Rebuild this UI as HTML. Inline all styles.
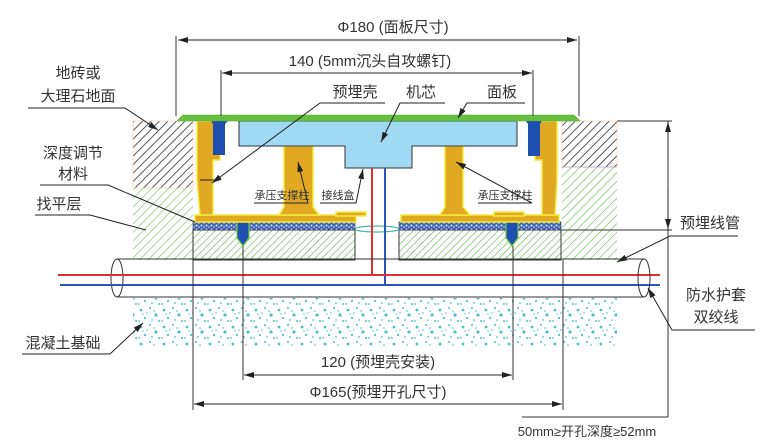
<!DOCTYPE html>
<html><head><meta charset="utf-8"><style>
html,body{margin:0;padding:0;background:#fff;}
svg{display:block;}
text{font-family:"Liberation Sans","Noto Sans CJK SC",sans-serif;fill:#333;}
</style></head><body>
<svg width="769" height="447" viewBox="0 0 769 447" xmlns="http://www.w3.org/2000/svg">
<defs>
<pattern id="hb" width="6" height="6" patternUnits="userSpaceOnUse" patternTransform="rotate(45)">
<line x1="0" y1="0" x2="0" y2="6" stroke="#222" stroke-width="1.5"/></pattern>
<pattern id="hg" width="6" height="6" patternUnits="userSpaceOnUse" patternTransform="rotate(45)">
<line x1="0" y1="0" x2="0" y2="6" stroke="#6fbf5c" stroke-width="1.3"/></pattern>
<pattern id="hg2" width="5" height="5" patternUnits="userSpaceOnUse" patternTransform="rotate(45)">
<line x1="0" y1="0" x2="0" y2="5" stroke="#5ab04a" stroke-width="1.2"/></pattern>
<pattern id="dots" width="23" height="17" patternUnits="userSpaceOnUse">
<circle cx="3" cy="4" r="1.4" fill="#4cc0cc"/><circle cx="12" cy="2" r="1" fill="#4cc0cc"/>
<circle cx="18" cy="9" r="1.6" fill="#4cc0cc"/><circle cx="7" cy="12" r="1.1" fill="#4cc0cc"/>
<circle cx="14" cy="14" r="0.9" fill="#4cc0cc"/><circle cx="21" cy="15" r="1" fill="#4cc0cc"/>
<circle cx="9" cy="7" r="0.8" fill="#4cc0cc"/><circle cx="1" cy="15" r="0.9" fill="#4cc0cc"/>
<circle cx="16" cy="5" r="0.8" fill="#4cc0cc"/><circle cx="5" cy="8" r="0.7" fill="#4cc0cc"/>
</pattern>
<pattern id="bd" width="5" height="4" patternUnits="userSpaceOnUse">
<rect width="5" height="4" fill="#3c63b8"/><circle cx="1.5" cy="1.5" r="1" fill="#dfe8f7"/><circle cx="4" cy="3" r="0.8" fill="#dfe8f7"/></pattern>
<marker id="ar" markerWidth="10" markerHeight="6" refX="10" refY="3" orient="auto" markerUnits="userSpaceOnUse"><path d="M0,0 L10,3 L0,6 Z" fill="#222"/></marker>
</defs>

<rect x="133" y="121" width="60" height="67" fill="url(#hb)" stroke="#f3c9a0" stroke-width="0.6"/>
<rect x="133" y="188" width="60" height="72" fill="url(#hg)"/>
<rect x="562" y="121" width="55" height="46" fill="url(#hb)" stroke="#f3c9a0" stroke-width="0.6"/>
<rect x="562" y="167" width="55" height="93" fill="url(#hg)"/>
<line x1="562" y1="167" x2="617" y2="167" stroke="#b79bd0" stroke-width="0.8"/>

<rect x="133" y="298" width="484" height="48" fill="url(#dots)"/>

<rect x="193" y="230" width="162" height="30" fill="url(#hg2)" stroke="#333" stroke-width="1"/>
<rect x="193" y="222" width="162" height="8" fill="url(#bd)" stroke="#333" stroke-width="0.6"/>
<rect x="399" y="230" width="162" height="30" fill="url(#hg2)" stroke="#333" stroke-width="1"/>
<rect x="399" y="222" width="162" height="8" fill="url(#bd)" stroke="#333" stroke-width="0.6"/>
<ellipse cx="377" cy="229" rx="22" ry="3" fill="none" stroke="#4bb3a8" stroke-width="1.2"/>
<path d="M237,222 L249,222 L249,238 L243,246 L237,238 Z" fill="#1f4fb0" stroke="#6fce3a" stroke-width="1.2"/>
<path d="M506,222 L518,222 L518,238 L512,246 L506,238 Z" fill="#1f4fb0" stroke="#6fce3a" stroke-width="1.2"/>

<g fill="#e0a823" stroke="#f4ec3a" stroke-width="1.5">
<rect x="195" y="215" width="161" height="7"/>
<rect x="401" y="215" width="158" height="7"/>
<path d="M197,121 L220,121 L220,160 L213,160 L213,215 L200,215 L197,180 Z"/>
<path d="M557,121 L535,121 L535,160 L542,160 L542,215 L555,215 L557,180 Z"/>
<path d="M284,146 L313,146 L313,207 L319,215 L279,215 L284,207 Z"/>
<path d="M445,146 L463,146 L463,207 L470,215 L440,215 L445,207 Z"/>
<rect x="336" y="212" width="30" height="4"/>
<rect x="494" y="212" width="30" height="4"/>
</g>
<line x1="200" y1="180" x2="215" y2="180" stroke="#222" stroke-width="1"/>

<path d="M239,121 L517,121 L517,146 L412,146 L412,168 L345,168 L345,146 L239,146 Z" fill="#9fd9f3" stroke="#333" stroke-width="1"/>

<path d="M208,116 L233,116 L225,124 L225,155 L213,155 L213,124 Z" fill="#1f4fb0"/>
<path d="M522,116 L545,116 L540,124 L540,156 L528,156 L528,124 Z" fill="#1f4fb0"/>

<path d="M183,115 L574,115 L580,121 L177,121 Z" fill="#66c040" stroke="#52a832" stroke-width="0.6"/>

<line x1="372" y1="168" x2="372" y2="276" stroke="#e03030" stroke-width="2"/>
<line x1="385" y1="168" x2="385" y2="286" stroke="#2a56b8" stroke-width="2"/>
<line x1="117" y1="259" x2="644" y2="259" stroke="#333" stroke-width="1"/>
<line x1="117" y1="297" x2="644" y2="297" stroke="#333" stroke-width="1"/>
<ellipse cx="117" cy="278" rx="6" ry="19" fill="none" stroke="#333" stroke-width="1"/>
<line x1="58" y1="275" x2="660" y2="275" stroke="#e03030" stroke-width="2"/>
<line x1="60" y1="285" x2="660" y2="285" stroke="#2a56b8" stroke-width="2"/>
<ellipse cx="644" cy="278" rx="6" ry="19" fill="none" stroke="#333" stroke-width="1"/>

<g stroke="#333" stroke-width="1" fill="none">
<line x1="176" y1="36" x2="176" y2="116"/><line x1="579" y1="36" x2="579" y2="116"/>
<line x1="221" y1="70" x2="221" y2="116"/><line x1="533" y1="70" x2="533" y2="116"/>
<line x1="193" y1="260" x2="193" y2="410"/><line x1="563" y1="260" x2="563" y2="410"/>
<line x1="243" y1="246" x2="243" y2="380"/><line x1="513" y1="246" x2="513" y2="380"/>
<line x1="617" y1="121" x2="672" y2="121"/>
<line x1="561" y1="230" x2="672" y2="230"/>
<line x1="668" y1="121" x2="668" y2="417"/>
<line x1="522" y1="417" x2="668" y2="417"/>
</g>
<g stroke="#222" stroke-width="1">
<line x1="178" y1="40" x2="577" y2="40" marker-end="url(#ar)"/>
<line x1="577" y1="40" x2="178" y2="40" marker-end="url(#ar)"/>
<line x1="222" y1="73" x2="532" y2="73" marker-end="url(#ar)"/>
<line x1="532" y1="73" x2="222" y2="73" marker-end="url(#ar)"/>
<line x1="244" y1="375" x2="512" y2="375" marker-end="url(#ar)"/>
<line x1="512" y1="375" x2="244" y2="375" marker-end="url(#ar)"/>
<line x1="194" y1="404" x2="562" y2="404" marker-end="url(#ar)"/>
<line x1="562" y1="404" x2="194" y2="404" marker-end="url(#ar)"/>
<line x1="668" y1="160" x2="668" y2="122" marker-end="url(#ar)"/>
<line x1="668" y1="190" x2="668" y2="229" marker-end="url(#ar)"/>
</g>

<g stroke="#222" stroke-width="1" fill="none">
<polyline points="28,108 125,108 158,130" marker-end="url(#ar)"/>
<polyline points="40,185 108,185 195,222"/>
<polyline points="35,215 90,215 146,230"/>
<polyline points="22,354 110,354 143,323" marker-end="url(#ar)"/>
<polyline points="385,103 320,103 212,183" marker-end="url(#ar)"/>
<polyline points="445,103 400,103 381,142" marker-end="url(#ar)"/>
<polyline points="525,103 467,103 458,118" marker-end="url(#ar)"/>
<polyline points="254,203 308,203 298,162" marker-end="url(#ar)"/>
<polyline points="478,203 532,203 456,162" marker-end="url(#ar)"/>
<polyline points="320,203 356,203 363,169" marker-end="url(#ar)"/>
<polyline points="738,236 670,236 617,262" marker-end="url(#ar)"/>
<polyline points="755,330 672,330 648,288" marker-end="url(#ar)"/>
</g>

<g font-size="15">
<text x="393" y="32" text-anchor="middle">Φ180 (面板尺寸)</text>
<text x="370" y="66" text-anchor="middle">140 (5mm沉头自攻螺钉)</text>
<text x="355" y="97" text-anchor="middle">预埋壳</text>
<text x="421" y="97" text-anchor="middle">机芯</text>
<text x="502" y="97" text-anchor="middle">面板</text>
<text x="78" y="78" text-anchor="middle">地砖或</text>
<text x="78" y="101" text-anchor="middle">大理石地面</text>
<text x="73" y="158" text-anchor="middle">深度调节</text>
<text x="73" y="179" text-anchor="middle">材料</text>
<text x="59" y="209" text-anchor="middle">找平层</text>
<text x="63" y="348" text-anchor="middle">混凝土基础</text>
<text x="710" y="228" text-anchor="middle">预埋线管</text>
<text x="716" y="300" text-anchor="middle">防水护套</text>
<text x="716" y="322" text-anchor="middle">双绞线</text>
<text x="378" y="367" text-anchor="middle">120 (预埋壳安装)</text>
<text x="378" y="397" text-anchor="middle">Φ165(预埋开孔尺寸)</text>
</g>
<g font-size="11">
<text x="282" y="199" text-anchor="middle">承压支撑柱</text>
<text x="505" y="199" text-anchor="middle">承压支撑柱</text>
<text x="338" y="199" text-anchor="middle">接线盒</text>
</g>
<text x="587" y="436" font-size="13" text-anchor="middle">50mm≥开孔深度≥52mm</text>
</svg>
</body></html>
